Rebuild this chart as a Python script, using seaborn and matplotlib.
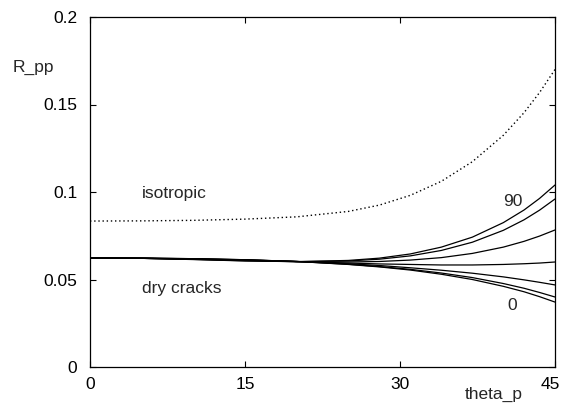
import matplotlib
matplotlib.use("Agg")
import matplotlib.pyplot as plt
import matplotlib.transforms as mtransforms
import seaborn as sns
import pandas as pd

# incidence angle (degrees)
theta = [0, 5, 10, 15, 20, 25, 28, 31, 34, 37, 40, 42, 43.5, 45]

# isotropic reflection coefficient
r_isotropic = [0.0834, 0.0835, 0.0838, 0.0845, 0.0858, 0.0889, 0.0925, 0.0981,
               0.1061, 0.1173, 0.1324, 0.1453, 0.1568, 0.1700]

# dry cracks, by azimuth (degrees)
azimuths = [90, 75, 60, 45, 30, 15, 0]
r_az90 = [0.0623, 0.0621, 0.0614, 0.0606, 0.0602, 0.0609, 0.0622, 0.0646,
          0.0685, 0.0742, 0.0825, 0.0897, 0.0963, 0.1040]
r_az75 = [0.0623, 0.0621, 0.0615, 0.0607, 0.0602, 0.0606, 0.0616, 0.0635,
          0.0666, 0.0713, 0.0781, 0.0841, 0.0896, 0.0960]
r_az60 = [0.0623, 0.0621, 0.0616, 0.0609, 0.0602, 0.0600, 0.0603, 0.0611,
          0.0625, 0.0649, 0.0685, 0.0718, 0.0748, 0.0783]
r_az45 = [0.0623, 0.0621, 0.0617, 0.0611, 0.0603, 0.0594, 0.0589, 0.0586,
          0.0583, 0.0583, 0.0586, 0.0590, 0.0594, 0.0600]
r_az30 = [0.0623, 0.0622, 0.0618, 0.0612, 0.0603, 0.0590, 0.0580, 0.0567,
          0.0553, 0.0536, 0.0515, 0.0498, 0.0484, 0.0469]
r_az15 = [0.0623, 0.0622, 0.0619, 0.0613, 0.0603, 0.0587, 0.0574, 0.0558,
          0.0537, 0.0511, 0.0477, 0.0450, 0.0426, 0.0400]
r_az0 = [0.0623, 0.0622, 0.0619, 0.0613, 0.0603, 0.0586, 0.0572, 0.0554,
         0.0530, 0.0500, 0.0461, 0.0430, 0.0402, 0.0371]
crack_series = [r_az90, r_az75, r_az60, r_az45, r_az30, r_az15, r_az0]

x_ticks = [0, 15, 30, 45]
y_ticks = [0, 0.05, 0.1, 0.15, 0.2]
y_ticklabels = ["0", "0.05", "0.1", "0.15", "0.2"]

FS = 12.5

sns.set_style("white")
plt.rcParams["font.family"] = ["Liberation Sans", "DejaVu Sans"]

rows = []
for az, vals in zip(azimuths, crack_series):
    for t, v in zip(theta, vals):
        rows.append({"theta": t, "R": v, "az": str(az)})
df_cracks = pd.DataFrame(rows)
df_iso = pd.DataFrame({"theta": theta, "R": r_isotropic})

fig = plt.figure(figsize=(5.63, 4.03), dpi=100)
ax = fig.add_axes([90 / 563, 36 / 403, (555 - 90) / 563, (367 - 17) / 403])

sns.lineplot(data=df_cracks, x="theta", y="R", units="az", estimator=None,
             color="black", lw=0.9, ax=ax, legend=False)
sns.lineplot(data=df_iso, x="theta", y="R", color="black", lw=1.0,
             linestyle=(0, (1, 2)), ax=ax, legend=False)

ax.set_xlim(0, 45)
ax.set_ylim(0, 0.2)
ax.set_xticks(x_ticks)
ax.set_xticklabels([str(t) for t in x_ticks])
ax.set_yticks(y_ticks)
ax.set_yticklabels(y_ticklabels)
ax.tick_params(direction="in", length=4, width=0.8, labelsize=FS,
               top=True, right=True, bottom=True, left=True, colors="black")
ax.tick_params(axis="x", pad=7)
ax.tick_params(axis="y", pad=9)
ax.set_xlabel("")
ax.set_ylabel("")
for s in ax.spines.values():
    s.set_visible(True)
    s.set_linewidth(0.9)
    s.set_color("black")

# keep the last x tick label inside the figure
last = ax.get_xticklabels()[-1]
last.set_transform(last.get_transform() +
                   mtransforms.ScaledTranslation(-5 / 100, 0, fig.dpi_scale_trans))

ax.text(5.0, 0.0994, "isotropic", fontsize=FS, va="center", ha="left")
ax.text(5.0, 0.0451, "dry cracks", fontsize=FS, va="center", ha="left")
ax.text(40.9, 0.0943, "90", fontsize=FS, va="center", ha="center")
ax.text(40.9, 0.0349, "0", fontsize=FS, va="center", ha="center")

fig.text(13 / 563, 1 - 67 / 403, "R_pp", fontsize=FS, va="center", ha="left")
fig.text(494 / 563, 1 - 394 / 403, "theta_p", fontsize=FS, va="center", ha="center")

fig.savefig("out.png", dpi=100)
